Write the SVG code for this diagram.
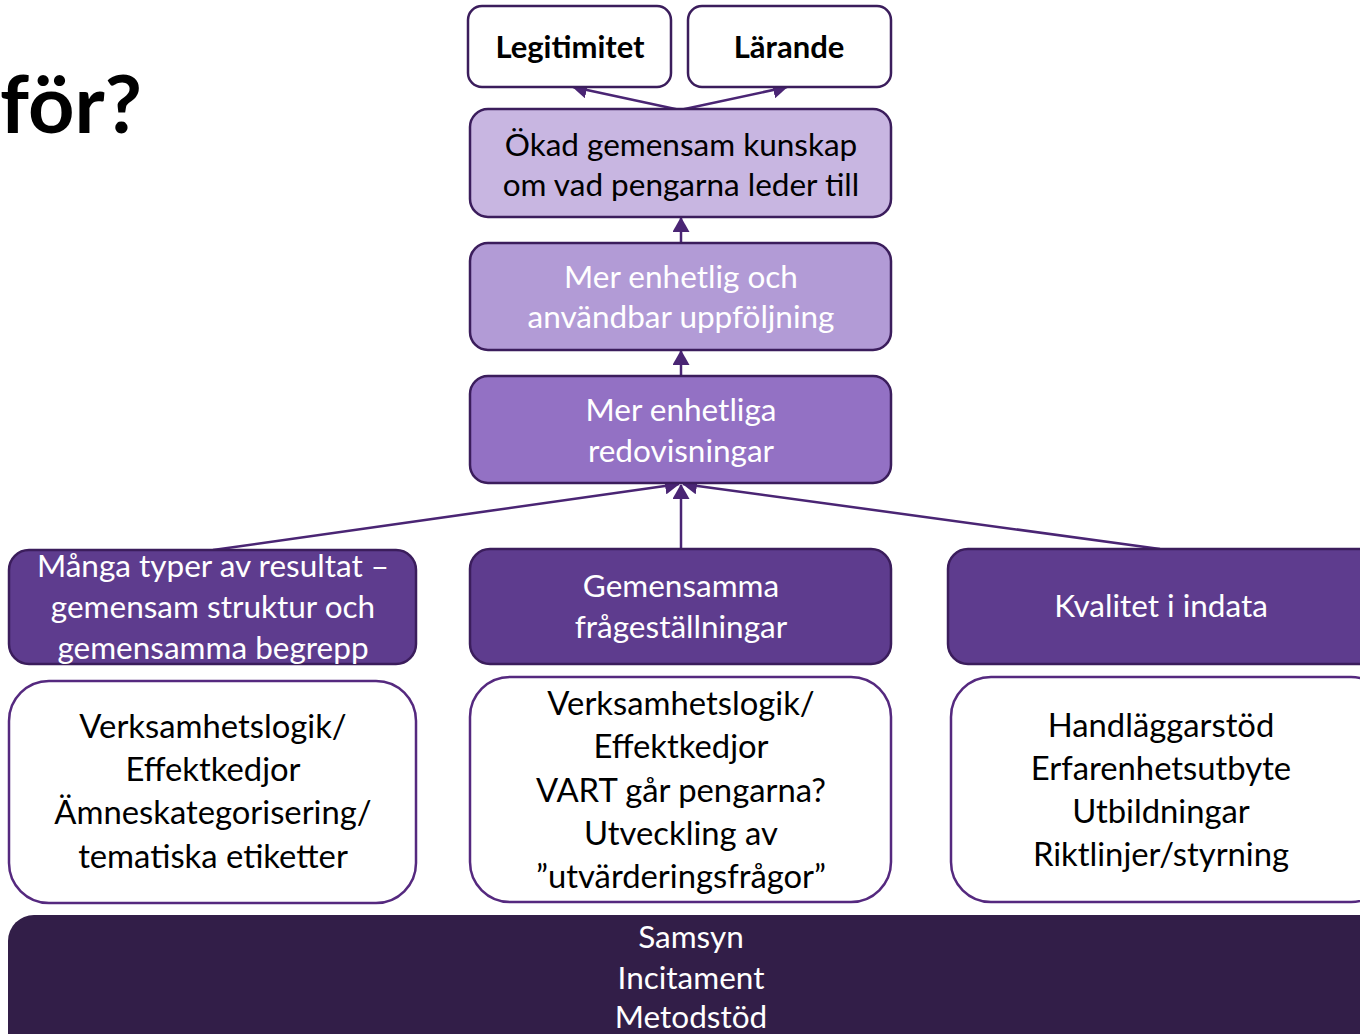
<svg xmlns="http://www.w3.org/2000/svg" width="1360" height="1034" viewBox="0 0 1360 1034">
  <style>
    text { font-family: Lato, "Open Sans", "Liberation Sans", sans-serif; text-anchor: middle; }
    .title { font-size: 81px; font-weight: bold; fill: #000; text-anchor: start; }
    .bold { font-size: 31px; font-weight: bold; fill: #000; }
    .lbl { font-size: 31.5px; }
    .big { font-size: 32.8px; }
    .dark { fill: #000; }
    .light { fill: #fff; }
    .box { stroke: #3b1d5c; stroke-width: 2.5; }
    .wbox { fill: #fff; stroke: #55297f; stroke-width: 2.5; }
    .conn { stroke: #4a2574; stroke-width: 2.5; fill: none; marker-end: url(#head); }
  </style>
  <defs>
    <marker id="head" markerUnits="userSpaceOnUse" markerWidth="15" markerHeight="17" viewBox="0 0 15 17" refX="14" refY="8.5" orient="auto">
      <path d="M0,0 L15,8.5 L0,17 z" fill="#4a2574"/>
    </marker>
  </defs>

  <rect width="1360" height="1034" fill="#fff"/>

  <text class="title" x="0" y="133">för?</text>

  <!-- arrows between the levels -->
  <g id="connectors">
    <line class="conn" x1="680" y1="110" x2="573" y2="87"/>
    <line class="conn" x1="680" y1="110" x2="787" y2="87"/>
    <line class="conn" x1="681" y1="243" x2="681" y2="218"/>
    <line class="conn" x1="681" y1="376" x2="681" y2="351"/>
    <line class="conn" x1="213" y1="550" x2="679" y2="484"/>
    <line class="conn" x1="1160" y1="549" x2="683" y2="484"/>
    <line class="conn" x1="681" y1="549" x2="681" y2="485"/>
  </g>

  <g id="legitimitet">
    <rect class="box" x="468" y="6" width="203" height="81" rx="14" fill="#fff"/>
    <text class="bold" x="570" y="58">Legitimitet</text>
  </g>
  <g id="larande">
    <rect class="box" x="688" y="6" width="203" height="81" rx="14" fill="#fff"/>
    <text class="bold" x="789" y="58">Lärande</text>
  </g>

  <g id="kunskap">
    <rect class="box" x="470" y="109" width="421" height="108" rx="18" fill="#c8b6e1"/>
    <text class="lbl dark" x="681" y="156">Ökad gemensam kunskap</text>
    <text class="lbl dark" x="681" y="196">om vad pengarna leder till</text>
  </g>

  <g id="uppfoljning">
    <rect class="box" x="470" y="243" width="421" height="107" rx="18" fill="#b29bd6"/>
    <text class="lbl light" x="681" y="288">Mer enhetlig och</text>
    <text class="lbl light" x="681" y="328">användbar uppföljning</text>
  </g>

  <g id="redovisningar">
    <rect class="box" x="470" y="376" width="421" height="107" rx="18" fill="#9371c4"/>
    <text class="lbl light" x="681" y="421">Mer enhetliga</text>
    <text class="lbl light" x="681" y="462">redovisningar</text>
  </g>

  <g id="resultat">
    <rect class="box" x="9" y="550" width="407" height="114" rx="20" fill="#5e3c8e"/>
    <text class="lbl light" x="213" y="577">Många typer av resultat –</text>
    <text class="lbl light" x="213" y="618">gemensam struktur och</text>
    <text class="lbl light" x="213" y="659">gemensamma begrepp</text>
  </g>

  <g id="fragestallningar">
    <rect class="box" x="470" y="549" width="421" height="115" rx="20" fill="#5e3c8e"/>
    <text class="lbl light" x="681" y="597">Gemensamma</text>
    <text class="lbl light" x="681" y="638">frågeställningar</text>
  </g>

  <g id="indata">
    <rect class="box" x="948" y="549" width="440" height="115" rx="20" fill="#5e3c8e"/>
    <text class="lbl light" x="1161" y="617">Kvalitet i indata</text>
  </g>

  <g id="logik-vanster">
    <rect class="wbox" x="9" y="681" width="407" height="222" rx="40"/>
    <text class="big dark" x="213" y="738">Verksamhetslogik/</text>
    <text class="big dark" x="213" y="781">Effektkedjor</text>
    <text class="big dark" x="213" y="824">Ämneskategorisering/</text>
    <text class="big dark" x="213" y="868">tematiska etiketter</text>
  </g>

  <g id="logik-mitten">
    <rect class="wbox" x="470" y="677" width="421" height="225" rx="40"/>
    <text class="big dark" x="681" y="715">Verksamhetslogik/</text>
    <text class="big dark" x="681" y="758">Effektkedjor</text>
    <text class="big dark" x="681" y="802">VART går pengarna?</text>
    <text class="big dark" x="681" y="845">Utveckling av</text>
    <text class="big dark" x="681" y="888">”utvärderingsfrågor”</text>
  </g>

  <g id="stod">
    <rect class="wbox" x="951" y="677" width="440" height="225" rx="40"/>
    <text class="big dark" x="1161" y="737">Handläggarstöd</text>
    <text class="big dark" x="1161" y="780">Erfarenhetsutbyte</text>
    <text class="big dark" x="1161" y="823">Utbildningar</text>
    <text class="big dark" x="1161" y="866">Riktlinjer/styrning</text>
  </g>

  <g id="grund">
    <rect x="8" y="915" width="1380" height="150" rx="26" fill="#321e48"/>
    <text class="lbl light" x="691" y="948">Samsyn</text>
    <text class="lbl light" x="691" y="989">Incitament</text>
    <text class="lbl light" x="691" y="1028">Metodstöd</text>
  </g>
</svg>
